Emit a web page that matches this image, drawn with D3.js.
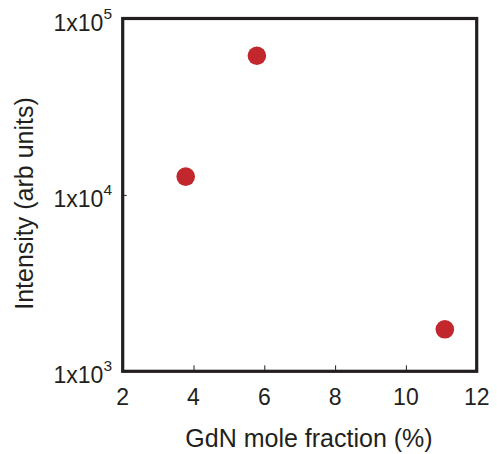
<!DOCTYPE html>
<html><head><meta charset="utf-8">
<script src="https://cdn.jsdelivr.net/npm/d3@7"></script>
<style>body{margin:0;background:#fff}svg{display:block}text{font-family:"Liberation Sans",Arial,sans-serif;fill:#231f20}</style>
</head><body>
<script>
const xValues = [3.78, 5.79, 11.1];
const yValues = [12700, 61500, 1730];
const xTicks = [2, 4, 6, 8, 10, 12];
const yTicks = [1e3, 1e4, 1e5];
const yTickExponents = ["3", "4", "5"];
const xLabel = "GdN mole fraction (%)";
const yLabel = "Intensity (arb units)";

const W = 497, H = 454;
const L = 122.7, R = 476.7, T = 18.5, B = 371.3;
const svg = d3.select("body").append("svg").attr("width", W).attr("height", H);
const x = d3.scaleLinear().domain([2, 12]).range([L, R]);
const y = d3.scaleLog().domain([1e3, 1e5]).range([B, T]);
const ink = "#231f20";

// inner ticks
svg.append("g").attr("transform", `translate(0,${B})`)
  .call(d3.axisBottom(x).tickValues(xTicks).tickSize(-6).tickFormat(""))
  .call(g => { g.select(".domain").remove(); g.selectAll("line").attr("stroke", ink).attr("stroke-width", 1); });
svg.append("g").attr("transform", `translate(${L},0)`)
  .call(d3.axisLeft(y).tickValues(yTicks).tickSize(-4).tickFormat(""))
  .call(g => { g.select(".domain").remove(); g.selectAll("line").attr("stroke", ink).attr("stroke-width", 1); });

// frame
svg.append("rect").attr("x", L).attr("y", T).attr("width", R - L).attr("height", B - T)
  .attr("fill", "none").attr("stroke", ink).attr("stroke-width", 3.2);

// x tick labels
svg.append("g").selectAll("text").data(xTicks).join("text")
  .attr("x", d => x(d)).attr("y", 405).attr("text-anchor", "middle")
  .attr("font-size", 23).text(d => d);

// y tick labels
const yl = svg.append("g").selectAll("text").data(yTicks).join("text")
  .attr("x", 112).attr("y", d => y(d) + 12).attr("text-anchor", "end").attr("font-size", 23);
yl.append("tspan").text("1x10");
yl.append("tspan").attr("font-size", 15.5).attr("dy", -12).text((d, i) => yTickExponents[i]);

// points
svg.append("g").selectAll("circle").data(xValues).join("circle")
  .attr("cx", d => x(d)).attr("cy", (d, i) => y(yValues[i])).attr("r", 9.3)
  .attr("fill", "#c1272d");

// axis labels
svg.append("text").attr("x", 309).attr("y", 446.5).attr("text-anchor", "middle")
  .attr("font-size", 25).text(xLabel);
svg.append("text").attr("transform", "translate(33,203.5) rotate(-90)").attr("text-anchor", "middle")
  .attr("font-size", 25).text(yLabel);
</script>
</body></html>
